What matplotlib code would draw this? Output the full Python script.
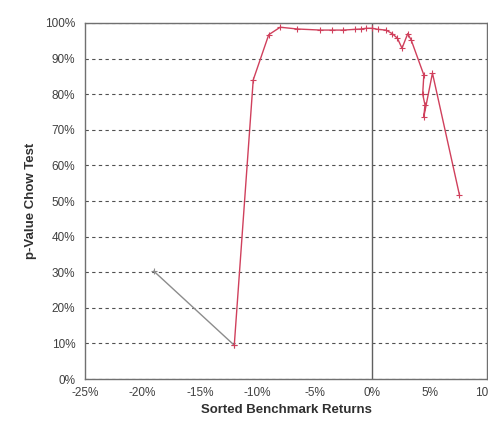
import matplotlib
matplotlib.use("Agg")
import matplotlib.pyplot as plt
from matplotlib.ticker import FuncFormatter, MultipleLocator

plt.rcParams['font.family'] = ['Liberation Sans', 'DejaVu Sans']

# grey series (low-return tail)
grey_x = [-19.0, -12.0]
grey_y = [30.3, 9.5]

# red series
red_x = [-12.0, -10.35, -9.0, -8.0, -6.5, -4.5, -3.5, -2.5, -1.5, -1.0, -0.5, 0.0,
         0.5, 1.2, 1.75, 2.2, 2.6, 3.1, 3.4, 4.5, 4.4, 4.6, 4.5, 5.25, 7.6]
red_y = [9.5, 84.0, 96.7, 98.8, 98.3, 98.0, 98.0, 98.0, 98.2, 98.3, 98.5, 98.5,
         98.2, 98.0, 97.0, 95.7, 92.9, 97.0, 95.2, 85.4, 80.0, 77.0, 73.7, 85.9, 51.7]

x_label = "Sorted Benchmark Returns"
y_label = "p-Value Chow Test"

fig = plt.figure(figsize=(4.88, 4.25), dpi=100)
ax = fig.add_axes([0.174, 0.108, 0.824, 0.838])

ax.set_xlim(-25, 10)
ax.set_ylim(0, 100)
ax.xaxis.set_major_locator(MultipleLocator(5))
ax.yaxis.set_major_locator(MultipleLocator(10))
ax.xaxis.set_major_formatter(FuncFormatter(lambda v, p: f"{v:.0f}%"))
ax.yaxis.set_major_formatter(FuncFormatter(lambda v, p: f"{v:.0f}%"))

ax.grid(axis='y', color='#505050', linestyle=(0, (3, 3)), linewidth=0.8)
ax.set_axisbelow(True)
ax.axvline(0, color='#606060', linewidth=1.0, zorder=1)

ax.plot(grey_x, grey_y, color='#8c8c8c', linewidth=1.0, marker='+',
        markersize=4, markeredgewidth=0.8, zorder=3)
ax.plot(red_x, red_y, color='#d0405c', linewidth=1.0, marker='+',
        markersize=4, markeredgewidth=0.8, zorder=4)

for s in ax.spines.values():
    s.set_color('#707070')
    s.set_linewidth(1.0)

ax.tick_params(axis='y', length=0, labelsize=8.5, colors='#404040', pad=7)
ax.tick_params(axis='x', length=0, labelsize=8.5, colors='#404040', pad=6)
ax.set_xlabel(x_label, fontsize=9.5, fontweight='bold', color='#303030', labelpad=3)
ax.set_ylabel(y_label, fontsize=9.5, fontweight='bold', color='#303030', labelpad=6)

fig.savefig("out.png", dpi=100)
